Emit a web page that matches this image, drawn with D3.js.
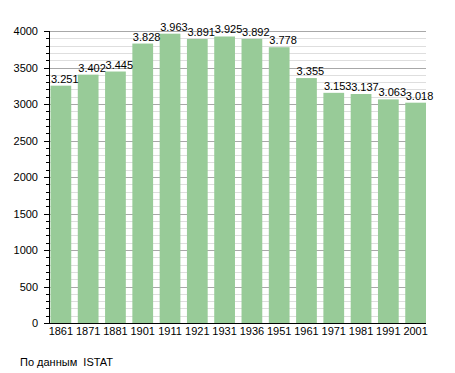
<!DOCTYPE html>
<html>
<head>
<meta charset="utf-8">
<style>
  body { margin: 0; background: #fff; }
  text { font-family: "Liberation Sans", Arial, sans-serif; font-size: 11px; fill: #000; }
</style>
</head>
<body>
<script src="https://cdnjs.cloudflare.com/ajax/libs/d3/7.8.5/d3.min.js"></script>
<script>
var years = ["1861","1871","1881","1901","1911","1921","1931","1936","1951","1961","1971","1981","1991","2001"];
var population = [3251, 3402, 3445, 3828, 3963, 3891, 3925, 3892, 3778, 3355, 3153, 3137, 3063, 3018];
var valueLabels = ["3.251","3.402","3.445","3.828","3.963","3.891","3.925","3.892","3.778","3.355","3.153","3.137","3.063","3.018"];
var yMajor = [0, 500, 1000, 1500, 2000, 2500, 3000, 3500, 4000];

var width = 455, height = 373;
var plotLeft = 49, plotRight = 426, plotTop = 31, plotBottom = 323;

var svg = d3.select("body").append("svg")
  .attr("width", width)
  .attr("height", height);

var y = d3.scaleLinear().domain([0, 4000]).range([plotBottom, plotTop]);
var x = d3.scaleBand().domain(years).range([plotLeft + 1.5, plotRight])
  .paddingInner(0.24).paddingOuter(0);

var minor = d3.range(100, 4001, 100);

// grid lines
svg.append("g").selectAll("line")
  .data(minor)
  .enter().append("line")
  .attr("x1", plotLeft).attr("x2", plotRight)
  .attr("y1", function(d) { return Math.round(y(d)) + 0.5; })
  .attr("y2", function(d) { return Math.round(y(d)) + 0.5; })
  .attr("stroke", function(d) { return d % 500 === 0 ? "#a8a8a8" : "#dedede"; })
  .attr("stroke-width", 1);

// bars
svg.append("g").selectAll("rect")
  .data(population)
  .enter().append("rect")
  .attr("x", function(d, i) { return x(years[i]); })
  .attr("y", function(d) { return y(d); })
  .attr("width", x.bandwidth())
  .attr("height", function(d) { return plotBottom - y(d); })
  .attr("fill", "#98cb98");

// value labels
svg.append("g").selectAll("text")
  .data(population)
  .enter().append("text")
  .attr("x", function(d, i) { return x(years[i]) + 0.5; })
  .attr("y", function(d) { return y(d) - 3; })
  .text(function(d, i) { return valueLabels[i]; });

// y axis ticks
svg.append("g").selectAll("line")
  .data(minor.concat([0]))
  .enter().append("line")
  .attr("x1", function(d) { return d % 500 === 0 ? plotLeft - 5 : plotLeft - 3; })
  .attr("x2", plotLeft)
  .attr("y1", function(d) { return Math.round(y(d)) + 0.5; })
  .attr("y2", function(d) { return Math.round(y(d)) + 0.5; })
  .attr("stroke", "#000");

svg.append("g").selectAll("text")
  .data(yMajor)
  .enter().append("text")
  .attr("x", plotLeft - 11)
  .attr("y", function(d) { return y(d) + 4; })
  .attr("text-anchor", "end")
  .text(function(d) { return d; });

// axis lines
svg.append("line")
  .attr("x1", plotLeft + 0.5).attr("x2", plotLeft + 0.5)
  .attr("y1", plotTop).attr("y2", plotBottom + 1)
  .attr("stroke", "#000");
svg.append("line")
  .attr("x1", plotLeft).attr("x2", plotRight)
  .attr("y1", plotBottom + 0.5).attr("y2", plotBottom + 0.5)
  .attr("stroke", "#000");

// x labels
svg.append("g").selectAll("text")
  .data(years)
  .enter().append("text")
  .attr("x", function(d) { return x(d) + x.bandwidth() / 2; })
  .attr("y", plotBottom + 12)
  .attr("text-anchor", "middle")
  .text(function(d) { return d; });

svg.append("text")
  .attr("x", 20)
  .attr("y", 366)
  .style("white-space", "pre")
  .text("По данным  ISTAT");
</script>
</body>
</html>
